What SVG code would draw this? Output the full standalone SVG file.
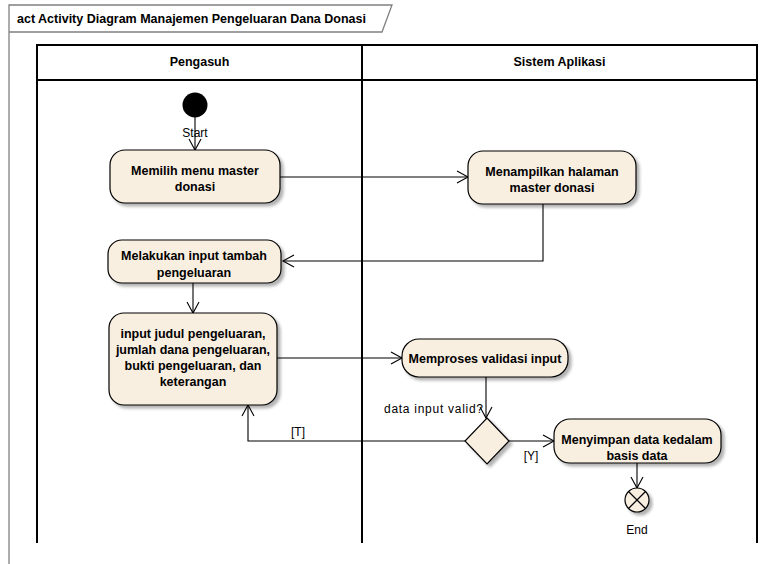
<svg xmlns="http://www.w3.org/2000/svg" width="773" height="564" viewBox="0 0 773 564">
<defs>
<style>
.lbl{font-family:"Liberation Sans",Arial,sans-serif;font-size:12px;fill:#000;text-anchor:middle}
.b{font-weight:bold;font-size:12.5px}
.node{fill:#f9efe1;stroke:#000;stroke-width:1.2}
.flow{fill:none;stroke:#000;stroke-width:1.1}
.lane{fill:none;stroke:#000;stroke-width:2}
.frame{fill:none;stroke:#808080;stroke-width:1.3}
</style>
<filter id="sh" x="-10%" y="-10%" width="130%" height="140%">
<feDropShadow dx="3" dy="3" stdDeviation="1.5" flood-color="#000" flood-opacity="0.3"/>
</filter>
<marker id="arr" markerWidth="14" markerHeight="14" refX="12" refY="7" orient="auto" markerUnits="userSpaceOnUse">
<path d="M1,1 L12,7 L1,13" fill="none" stroke="#000" stroke-width="1.1"/>
</marker>
</defs>
<rect width="773" height="564" fill="#fff"/>
<g id="frame">
<path class="frame" d="M9,564 L9,5 L392,5 L382,32 L9,32"/>
<text class="lbl b" x="17" y="23" style="text-anchor:start">act Activity Diagram Manajemen Pengeluaran Dana Donasi</text>
</g>
<g id="lanes">
<path class="lane" d="M37,543 L37,45 L757,45 L757,543"/>
<line class="lane" x1="37" y1="80" x2="757" y2="80"/>
<line class="lane" x1="362" y1="45" x2="362" y2="543"/>
<text class="lbl b" x="199.5" y="66">Pengasuh</text>
<text class="lbl b" x="559.5" y="66">Sistem Aplikasi</text>
</g>
<g id="connectors">
<line class="flow" x1="195" y1="117" x2="195" y2="150" marker-end="url(#arr)"/>
<line class="flow" x1="280" y1="177" x2="468" y2="177" marker-end="url(#arr)"/>
<polyline class="flow" points="543,204 543,261 283,261" marker-end="url(#arr)"/>
<line class="flow" x1="193" y1="283" x2="193" y2="313" marker-end="url(#arr)"/>
<line class="flow" x1="277" y1="358" x2="402" y2="358" marker-end="url(#arr)"/>
<line class="flow" x1="486" y1="377" x2="486" y2="418" marker-end="url(#arr)"/>
<line class="flow" x1="509" y1="441" x2="554" y2="441" marker-end="url(#arr)"/>
<polyline class="flow" points="465,441 248,441 248,405" marker-end="url(#arr)"/>
<line class="flow" x1="637" y1="463" x2="637" y2="488" marker-end="url(#arr)"/>
<text class="lbl" x="384" y="413" style="text-anchor:start" textLength="99" lengthAdjust="spacing">data input valid?</text>
<text class="lbl" x="298" y="436">[T]</text>
<text class="lbl" x="531" y="460">[Y]</text>
</g>
<g id="start">
<circle cx="195" cy="105" r="12.5" fill="#000"/>
<text class="lbl" x="195" y="137">Start</text>
</g>
<g id="memilih">
<rect class="node" x="110" y="150" width="170" height="53" rx="15" filter="url(#sh)"/>
<text class="lbl b" x="195" y="175">Memilih menu master</text>
<text class="lbl b" x="195" y="191">donasi</text>
</g>
<g id="menampilkan">
<rect class="node" x="468" y="151" width="168" height="53" rx="15" filter="url(#sh)"/>
<text class="lbl b" x="552" y="176">Menampilkan halaman</text>
<text class="lbl b" x="552" y="192">master donasi</text>
</g>
<g id="melakukan">
<rect class="node" x="108" y="240" width="173" height="43" rx="14" filter="url(#sh)"/>
<text class="lbl b" x="194" y="260">Melakukan input tambah</text>
<text class="lbl b" x="194" y="277">pengeluaran</text>
</g>
<g id="input">
<rect class="node" x="109" y="313" width="168" height="92" rx="15" filter="url(#sh)"/>
<text class="lbl b" x="193" y="338">input judul pengeluaran,</text>
<text class="lbl b" x="193" y="354">jumlah dana pengeluaran,</text>
<text class="lbl b" x="193" y="370">bukti pengeluaran, dan</text>
<text class="lbl b" x="193" y="386">keterangan</text>
</g>
<g id="memproses">
<rect class="node" x="402" y="339" width="166" height="38" rx="17" filter="url(#sh)"/>
<text class="lbl b" x="485" y="363">Memproses validasi input</text>
</g>
<g id="decision">
<polygon class="node" points="487,418 509,441 487,464 465,441" filter="url(#sh)"/>
</g>
<g id="menyimpan">
<rect class="node" x="554" y="419" width="167" height="44" rx="16" filter="url(#sh)"/>
<text class="lbl b" x="637" y="444">Menyimpan data kedalam</text>
<text class="lbl b" x="637" y="460">basis data</text>
</g>
<g id="end">
<circle class="node" cx="637" cy="500" r="12" filter="url(#sh)"/>
<path d="M628.5,491.5 L645.5,508.5 M645.5,491.5 L628.5,508.5" stroke="#000" stroke-width="1.2"/>
<text class="lbl" x="637" y="534">End</text>
</g>
</svg>
